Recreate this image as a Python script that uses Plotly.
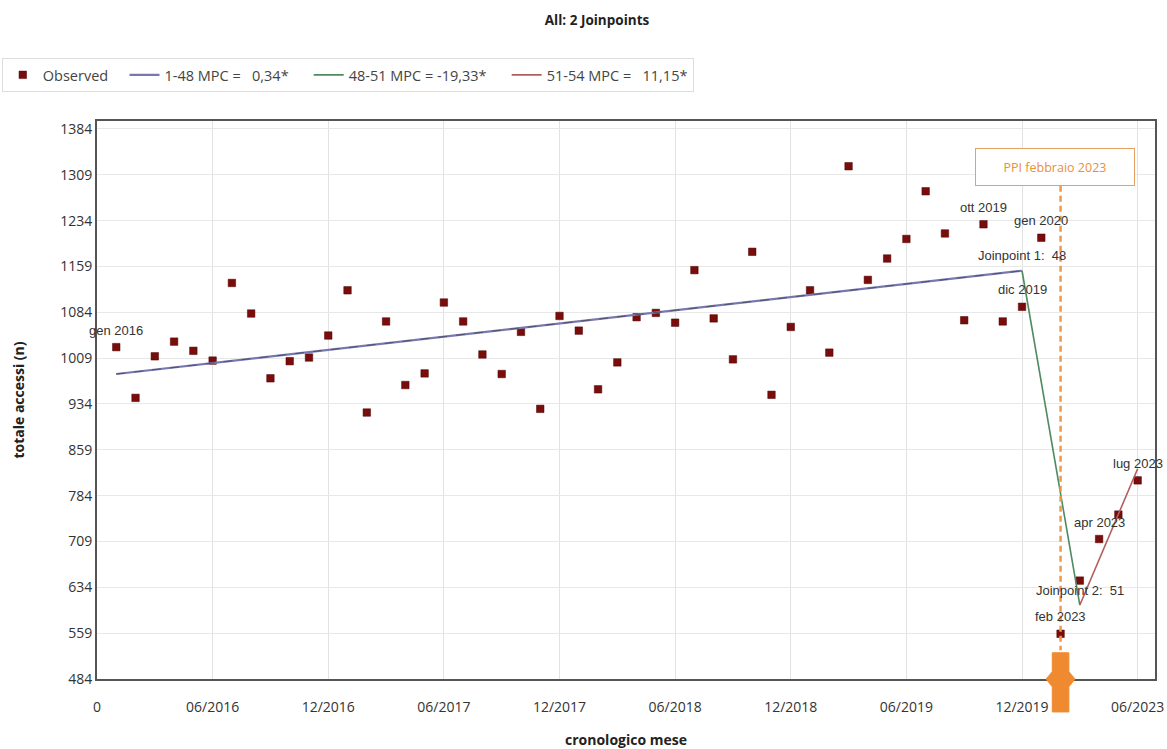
import plotly.graph_objects as go

# ---------------- data ----------------
month_index = list(range(1, 55))
observed = [1027, 944, 1012, 1036, 1021, 1005, 1132, 1082, 976, 1004,
            1010, 1046, 1120, 920, 1069, 965, 984, 1100, 1069, 1015,
            983, 1052, 926, 1078, 1054, 958, 1002, 1076, 1083, 1067,
            1153, 1074, 1007, 1183, 949, 1060, 1120, 1018, 1323, 1137,
            1172, 1204, 1282, 1213, 1071, 1228, 1069, 1093, 1206, 558,
            645, 713, 753, 809]

seg1_x, seg1_y = [1, 48], [983, 1152]
seg2_x, seg2_y = [48, 51], [1152, 605]
seg3_x, seg3_y = [51, 54], [605, 828]

seg_names = ["1-48 MPC =  0,34*", "48-51 MPC = -19,33*", "51-54 MPC =  11,15*"]

point_labels = {1: "gen 2016", 46: "ott 2019", 49: "gen 2020", 48: "dic 2019",
                50: "feb 2023", 52: "apr 2023", 54: "lug 2023"}
joinpoints = [(48, 1152, "Joinpoint 1:  48"), (51, 605, "Joinpoint 2:  51")]

event_x = 50
event_label = "PPI febbraio 2023"

x_tickvals = [0, 6, 12, 18, 24, 30, 36, 42, 48, 54]
x_ticktext = ["0", "06/2016", "12/2016", "06/2017", "12/2017", "06/2018",
              "12/2018", "06/2019", "12/2019", "06/2023"]
y_tickvals = [484, 559, 634, 709, 784, 859, 934, 1009, 1084, 1159, 1234, 1309, 1384]

NB = "\u00a0"


def nbsp(s):
    return s.replace("  ", NB + NB + NB)


# ---------------- figure ----------------
fig = go.Figure()

fig.add_trace(go.Scatter(
    x=month_index, y=observed, mode="markers", name="Observed" + NB * 3,
    marker=dict(symbol="square", size=7.5, color="#7a0c0c",
                line=dict(color="#4a0505", width=0.5)),
))
fig.add_trace(go.Scatter(
    x=seg1_x, y=seg1_y, mode="lines", name=nbsp(seg_names[0]) + NB * 4,
    line=dict(color="#7878b0", width=2.2),
))
fig.add_trace(go.Scatter(
    x=seg1_x, y=seg1_y, mode="lines", showlegend=False, hoverinfo="skip",
    line=dict(color="#50506a", width=1, dash="dash"),
))
fig.add_trace(go.Scatter(
    x=seg2_x, y=seg2_y, mode="lines", name=nbsp(seg_names[1]) + NB * 4,
    line=dict(color="#4f8a60", width=1.6),
))
fig.add_trace(go.Scatter(
    x=seg3_x, y=seg3_y, mode="lines", name=nbsp(seg_names[2]),
    line=dict(color="#b25e5e", width=1.6),
))

annotations = []
lab_font = dict(family="Liberation Sans, Arial, sans-serif", size=13, color="#333333")
for i, txt in point_labels.items():
    annotations.append(dict(x=i, y=observed[i - 1], text=txt, showarrow=False,
                            yshift=17, font=lab_font))
for jx, jy, txt in joinpoints:
    annotations.append(dict(x=jx, y=jy, text=txt.replace("  ", NB + NB),
                            showarrow=False, yshift=15, font=lab_font))

# event box
annotations.append(dict(x=event_x - 0.3, y=1322, text=event_label, showarrow=False,
                        font=dict(family="Open Sans, sans-serif", size=12.5, color="#e8903a"),
                        bordercolor="#e8a060", borderwidth=1, borderpad=4,
                        bgcolor="white", width=150, height=28))

shapes = [
    dict(type="line", xref="x", yref="y", x0=event_x, x1=event_x, y0=1291, y1=531,
         line=dict(color="#ef9a48", width=2.5, dash="6px,4px")),
]
# orange arrow marker at the event on the x axis
w, wb = 0.43, 0.75
yt, yb1, yb2, ybot = 0.047, 0.013, -0.014, -0.059
path = (f"M {event_x - w},{yt} L {event_x + w},{yt} L {event_x + w},{yb1} "
        f"L {event_x + wb},0 L {event_x + w},{yb2} L {event_x + w},{ybot} "
        f"L {event_x - w},{ybot} L {event_x - w},{yb2} L {event_x - wb},0 "
        f"L {event_x - w},{yb1} Z")
shapes.append(dict(type="path", xref="x", yref="paper", path=path,
                   fillcolor="#f08a30", line=dict(color="#f08a30", width=1)))

fig.update_layout(
    width=1167, height=749,
    margin=dict(l=97, r=12, t=121, b=70, autoexpand=False),
    paper_bgcolor="white", plot_bgcolor="white",
    font=dict(family="Open Sans, sans-serif", size=14, color="#333333"),
    title=dict(text="<b>All: 2 Joinpoints</b>", x=597 / 1167, xref="container",
               xanchor="center", y=1 - 20 / 749, yref="container", yanchor="middle",
               font=dict(size=13.5, color="#222222")),
    showlegend=True,
    legend=dict(orientation="h", x=-0.09, xanchor="left", y=1.113, yanchor="top",
                bgcolor="white", bordercolor="#dddddd", borderwidth=1,
                font=dict(size=14.5, color="#444444"), itemwidth=30,
                tracegroupgap=0),
    annotations=annotations,
    shapes=shapes,
    xaxis=dict(range=[0, 54.9], tickmode="array", tickvals=x_tickvals, ticktext=x_ticktext,
               automargin=False,
               showgrid=True, gridcolor="#e2e2e2", gridwidth=1, zeroline=False,
               showline=True, linecolor="#555555", linewidth=2, mirror=True,
               ticks="outside", ticklen=14, tickcolor="rgba(0,0,0,0)",
               tickfont=dict(size=14, color="#333333"),
               title=dict(text="<b>cronologico mese</b>", standoff=20,
                          font=dict(size=14, color="#222222"))),
    yaxis=dict(range=[484, 1397], tickmode="array", tickvals=y_tickvals,
               ticktext=[str(v) for v in y_tickvals],
               automargin=False,
               showgrid=True, gridcolor="#e8e8e8", gridwidth=1, zeroline=False,
               showline=True, linecolor="#555555", linewidth=2, mirror=True,
               ticks="", tickfont=dict(size=14, color="#333333"),
               title=dict(text="<b>totale accessi (n)</b>", standoff=32,
                          font=dict(size=14, color="#222222"))),
)

fig.write_html("out.html", config={"displayModeBar": False},
               post_script="document.body.style.margin='0';")
